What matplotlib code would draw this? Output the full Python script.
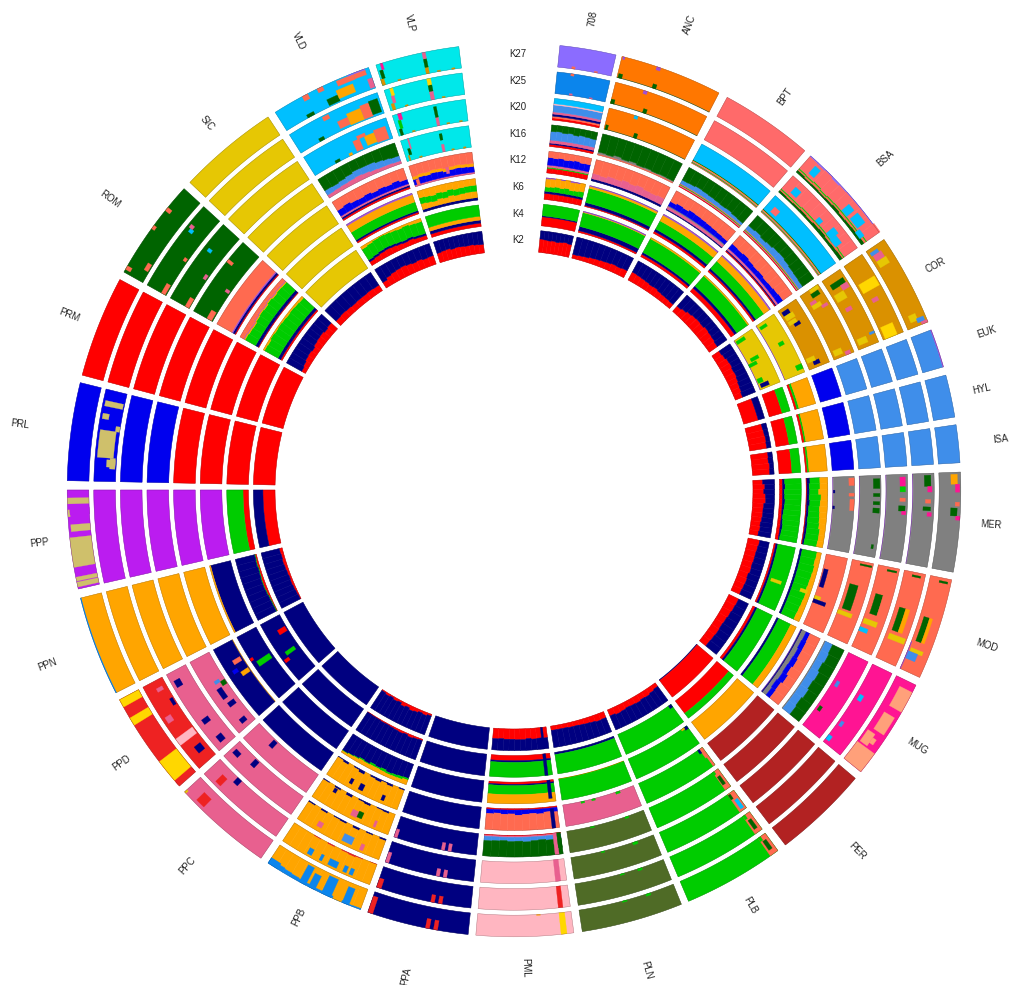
# circular admixture plot, one wedge per population, one ring per K
import numpy as np
import matplotlib
matplotlib.use("Agg")
import matplotlib.pyplot as plt

plt.rcParams["font.family"] = ["Liberation Sans", "DejaVu Sans"]

PAL = {
    "R": "#ff0000", "N": "#000080", "G": "#00cc00", "O": "#ffa500", "T": "#ff6a50",
    "D": "#006400", "B": "#0000ee", "C": "#3f8eea", "S": "#00bfff", "P": "#e8608f",
    "V": "#a04fd8", "L": "#8b6cff", "A": "#0b85ec", "F": "#ff7700", "M": "#ff6a6a",
    "Y": "#e6c704", "H": "#da9100", "W": "#ffd700", "E": "#808080", "U": "#ff1493",
    "Q": "#ffa07a", "I": "#b22222", "J": "#4f6b26", "K": "#ffb6c1", "X": "#ee2222",
    "Z": "#bb1cf0", "a": "#cfc06b", "c": "#00e8ea",
}

rings = ["K2", "K4", "K6", "K12", "K16", "K20", "K25", "K27"]
sector_names = ["708", "ANC", "BPT", "BSA", "COR", "EUK", "HYL", "ISA", "MER", "MOD", "MUG",
                "PER", "PLB", "PLN", "PML", "PPA", "PPB", "PPC", "PPD", "PPN", "PPP", "PRL",
                "PRM", "ROM", "SIC", "VLD", "VLP"]
sector_start = [5.9, 14.0, 28.5, 41.6, 55.9, 69.0, 75.1, 81.6, 87.7, 101.6, 115.9, 130.2, 143.8,
                158.0, 172.3, 185.9, 200.1, 214.5, 228.5, 243.0, 257.2, 271.2, 284.9, 299.2,
                313.5, 327.7, 342.0]
sector_end = [13.2, 27.3, 40.6, 54.8, 67.9, 74.0, 80.6, 86.5, 100.6, 114.8, 129.1, 142.6, 157.0,
              171.2, 184.9, 199.1, 213.4, 227.5, 242.0, 256.0, 270.0, 283.9, 298.1, 312.4,
              326.6, 341.0, 352.9]

# layers run from the inner edge of a ring outward, None = the rest of the ring
stripes_k16 = [("R", .04), ("P", .05), ("G", .03), ("T", .04)]
stripes_k20 = [("T", .04), ("G", .03), ("P", .05), ("O", .03), ("D", .03)]

cells_708 = [
    [("R", [.62, .6, .58, .6, .57, .6, .63, .6]), ("N", None)],
    [("R", .42), ("N", .05), ("G", None)],
    [("R", .28), ("N", .1), ("G", [.2, .22, .25, .22, .26, .2, .22, .25]), ("O", .38), ("V", None)],
    [("R", .22), ("G", .05), ("P", .1), ("B", [.35, .33, .36, .32, .34, .37, .32, .33]), ("T", None)],
    [("R", .1), ("N", .06), ("P", .14), ("C", [.4, .42, .38, .41, .36, .4, .38, .36]), ("D", None)],
    [("R", .1), ("T", .08), ("N", .1), ("P", .1), ("C", .32), ("K", .06), ("S", None)],
    [("A", None)],
    [("L", None)],
]
spots_708 = [(7, .26, .32, 0, .1, "T"), (7, .68, .74, 0, .06, "T"), (6, .28, .34, 0, .08, "P"),
             (6, .68, .74, 0, .05, "P"), (6, .26, .32, .9, 1, "T")]

cells_ANC = [
    [("R", [.18, .2, .22, .26, .28, .3, .32, .35, .33, .36]), ("N", None)],
    [("R", .08), ("N", .2), ("G", .66), ("O", .03), ("V", None)],
    [("R", .05), ("N", .14), ("G", .68), ("O", .1), ("V", None)],
    [("N", .1), ("P", [.25, .22, .3, .28, .35, .3, .36, .3, .28, .32]), ("T", None)],
    [("T", .06), ("E", [.08, .05, .12, .06, .1, .04, .06, .03, .05, .04]), ("D", None)],
    [("J", .03), ("F", None)],
    [("J", .03), ("F", None)],
    [("J", .03), ("F", None)],
]
spots_ANC = [(5, .01, .04, 0, .22, "D"), (5, .35, .39, 0, .22, "D"), (5, .29, .33, .85, 1, "S"),
             (6, .0, .04, 0, .2, "D"), (6, .36, .4, 0, .2, "D"), (6, .3, .34, .85, 1, "V"),
             (7, .01, .05, 0, .2, "D"), (7, .37, .41, 0, .2, "D"), (7, .35, .39, .85, 1, "V"),
             (7, .01, .03, .88, 1, "V")]

cells_BPT = [
    [("R", [.42, .4, .38, .36, .33, .35, .3, .28, .27, .25]), ("N", None)],
    [("R", .12), ("N", .1), ("G", .72), ("O", None)],
    [("R", .1), ("N", .12), ("G", .43), ("O", .3), ("V", None)],
    [("N", .05), ("P", .12), ("E", .05), ("B", [.22, .28, .25, .32, .3, .28, .26, .24, .22, .2]), ("T", None)],
    stripes_k16 + [("C", [.18, .2, .24, .22, .2, .18, .16, .18, .14, .12]), ("D", None)],
    stripes_k20 + [("S", None)],
    [("M", None)],
    [("M", None)],
]
spots_BPT = []

cells_BSA = [
    [("R", [.32, .38, .45, .5, .52, .5, .55, .52, .5, .46]), ("N", None)],
    [("R", .2), ("N", .13), ("G", .62), ("O", None)],
    [("R", .08), ("N", .1), ("G", .45), ("O", .32), ("V", None)],
    [("R", .05), ("N", .05), ("P", .1), ("B", [.28, .26, .3, .25, .22, .24, .2, .22, .25, .28]), ("T", None)],
    stripes_k16 + [("C", [.22, .26, .2, .24, .3, .32, .28, .24, .22, .2]), ("D", None)],
    stripes_k20 + [("S", None)],
    [("D", [.1, .08, .1, .12, .1, .14, .16, .12, .14, .16]),
     ("T", [.06, .08, .06, .08, .1, .08, .06, .08, .1, .06]), ("G", .05), ("M", None)],
    [("D", [.12, .08, .1, .08, .1, .14, .1, .12, .14, .16]),
     ("T", [.06, .08, .1, .06, .08, .06, .1, .08, .06, .1]), ("G", .05), ("M", .74), ("L", None)],
]
spots_BSA = [(5, .08, .16, .3, .6, "M"), (6, .1, .18, .35, .7, "S"), (6, .68, .76, .25, .7, "S"),
             (6, .76, .86, .2, .55, "S"), (6, .5, .56, .25, .5, "S"), (7, .1, .17, .35, .8, "S"),
             (7, .6, .68, .25, .7, "S"), (7, .72, .84, .3, .75, "S"), (7, .86, .94, .1, .35, "S")]

cells_COR = [
    [("R", [.4, .44, .5, .52, .48, .5, .46, .42, .4, .36]), ("N", None)],
    [("V", .03), ("Y", None)],
    [("V", .03), ("Y", None)],
    [("H", None)],
    [("H", None)],
    [("H", None)],
    [("H", None)],
    [("H", None)],
]
spots_COR = [(1, .03, .09, .05, .5, "G"), (1, .42, .48, .2, .6, "G"), (1, .5, .56, 0, .4, "G"),
             (1, .9, .97, .1, .5, "N"), (1, .8, .88, .05, .3, "G"),
             (2, .05, .1, .1, .45, "G"), (2, .42, .48, .45, .7, "G"), (2, .86, .94, .7, 1, "G"),
             (3, .05, .12, .1, .45, "N"), (3, .28, .33, .3, .6, "N"), (3, .22, .28, .1, .5, "Y"),
             (3, .12, .2, .1, .55, "Y"), (3, .9, .96, .3, .6, "N"), (3, .83, .9, .05, .45, "Y"),
             (4, .06, .12, .45, .85, "D"), (4, .0, .05, .5, .95, "Y"), (4, .15, .2, .2, .5, "P"),
             (4, .2, .26, .2, .65, "Y"), (4, .26, .3, .6, .9, "P"), (4, .88, .96, .1, .5, "Y"),
             (4, .95, 1, .6, .85, "P"),
             (5, .1, .17, .2, .9, "D"), (5, .17, .24, .6, .95, "P"), (5, .24, .34, .1, .6, "Y"),
             (5, .45, .5, .25, .55, "P"), (5, .87, .95, .1, .55, "Y"), (5, .85, .88, .75, 1, "C"),
             (6, .28, .4, .1, .95, "W"), (6, .85, 1, .1, .7, "W"), (6, .5, .55, .3, .6, "P"),
             (7, .08, .16, .15, .6, "P"), (7, .04, .08, .1, .5, "C"), (7, .16, .24, .15, .65, "Y"),
             (7, .86, .94, .25, .6, "Y"), (7, .92, .97, .55, .9, "C"), (7, .97, 1, .7, 1, "P")]

cells_EUK = [
    [("R", .7), ("N", None)],
    [("R", .62), ("G", None)],
    [("R", .1), ("G", .1), ("O", None)],
    [("B", None)],
    [("C", None)],
    [("C", None)],
    [("C", None)],
    [("C", .97), ("V", None)],
]
cells_HYL = [
    [("R", [.78, .8, .82, .8]), ("N", None)],
    [("R", .62), ("G", None)],
    [("R", .1), ("G", .07), ("O", None)],
    [("B", None)],
    [("C", None)],
    [("C", None)],
    [("C", None)],
    [("C", None)],
]
cells_ISA = [
    [("R", [.8, .78, .82, .8]), ("N", None)],
    [("R", .6), ("G", None)],
    [("R", .08), ("G", .08), ("O", None)],
    [("B", None)],
    [("C", None)],
    [("C", None)],
    [("C", None)],
    [("C", None)],
]

cells_MER = [
    [("R", [.45, .55, .5, .58, .6, .52, .5, .5, .48, .44, .46, .42]), ("N", None)],
    [("R", .14), ("N", [.1, .12, .08, .1, .12, .1, .08, .06, .08, .1, .08, .06]), ("G", None)],
    [("R", .04), ("N", [.14, .1, .12, .1, .14, .1, .1, .08, .1, .1, .1, .08]),
     ("G", [.46, .5, .42, .55, .48, .5, .52, .55, .55, .6, .6, .6]), ("O", None)],
    [("V", .03), ("E", None)],
    [("V", .03), ("E", None)],
    [("V", .03), ("E", None)],
    [("V", .03), ("E", None)],
    [("E", None)],
]
spots_MER = [(3, .02, .12, .75, 1, "T"), (3, .22, .26, .75, 1, "T"), (3, .3, .45, .8, 1, "T"),
             (3, .18, .22, .02, .1, "N"), (3, .4, .44, .02, .1, "N"),
             (4, .04, .16, .65, .95, "D"), (4, .22, .26, .65, .95, "D"), (4, .32, .36, .65, .95, "D"),
             (4, .4, .46, .65, .95, "D"), (4, .85, .9, .75, .85, "D"),
             (5, .03, .14, .65, .9, "U"), (5, .14, .2, .65, .9, "G"), (5, .27, .31, .65, .9, "T"),
             (5, .36, .42, .6, .9, "D"), (5, .42, .46, .75, .95, "U"),
             (6, .02, .14, .55, .85, "D"), (6, .14, .2, .7, .9, "U"), (6, .28, .32, .6, .85, "T"),
             (6, .36, .4, .5, .85, "D"), (6, .42, .46, .7, .9, "U"),
             (7, .02, .12, .55, .85, "O"), (7, .12, .2, .75, .95, "U"), (7, .3, .34, .75, .95, "T"),
             (7, .36, .44, .55, .85, "D"), (7, .44, .48, .8, 1, "U")]

cells_MOD = [
    [("R", [.55, .52, .5, .5, .48, .5, .45, .48, .46, .44]), ("N", None)],
    [("R", .08), ("N", .1), ("G", None)],
    [("N", .1), ("G", [.7, .68, .72, .7, .68, .66, .7, .68, .66, .64]), ("O", None)],
    [("T", None)],
    [("T", None)],
    [("T", None)],
    [("T", None)],
    [("T", None)],
]
spots_MOD = [(1, .55, .6, .3, .8, "Y"), (2, .55, .6, .5, .85, "Y"),
             (3, .58, .63, 0, .3, "Y"), (3, .2, .45, .05, .25, "N"), (3, .63, .68, 0, .6, "N"),
             (4, .65, .7, 0, .7, "Y"), (4, .3, .62, .15, .55, "D"), (4, .03, .05, .4, .95, "D"),
             (5, .64, .7, .05, .7, "Y"), (5, .33, .57, .2, .55, "D"), (5, .33, .57, .55, .8, "T"),
             (5, .03, .05, .45, .9, "D"), (5, .75, .8, .0, .4, "S"),
             (6, .7, .76, .15, .95, "Y"), (6, .4, .66, .2, .5, "D"), (6, .4, .66, .5, .7, "O"),
             (6, .03, .05, .4, .8, "D"),
             (7, .76, .8, .1, .7, "Y"), (7, .42, .68, .18, .45, "D"), (7, .42, .68, .45, .6, "O"),
             (7, .03, .05, .45, .85, "D"), (7, .8, .88, 0, .5, "C"), (7, .7, 1, 0, .03, "V")]

cells_MUG = [
    [("R", [.5, .48, .45, .42, .4, .42, .4, .38]), ("N", None)],
    [("R", .12), ("N", .1), ("G", None)],
    [("N", .1), ("G", .62), ("O", None)],
    [("V", .03), ("N", .05), ("E", [.2, .18, .22, .2, .18, .2, .16, .2]),
     ("B", [.2, .24, .2, .26, .22, .28, .24, .22]), ("T", None)],
    [("E", .05), ("C", [.36, .4, .34, .42, .38, .44, .38, .42]), ("D", None)],
    [("U", None)],
    [("U", None)],
    [("U", None)],
]
spots_MUG = [(5, .35, .42, .15, .3, "C"), (5, .7, .76, .1, .25, "D"), (6, .35, .42, .15, .35, "S"),
             (6, .7, .76, .1, .25, "C"), (6, .9, .96, 0, .2, "S"),
             (7, .08, .3, .35, 1, "Q"), (7, .38, .58, .3, .85, "Q"), (7, .62, .76, .1, .5, "Q"),
             (7, .78, 1, 0, 1, "Q"), (7, .66, .72, .5, .7, "Q")]

cells_PER = [
    [("N", .04), ("R", None)],
    [("R", .72), ("G", None)],
    [("O", None)],
    [("I", None)],
    [("I", None)],
    [("I", None)],
    [("I", None)],
    [("I", None)],
]

cells_PLB = [
    [("R", [.2, .25, .3, .28, .32, .3, .28, .32, .35, .3]), ("N", None)],
    [("G", None)],
    [("G", None)],
    [("G", None)],
    [("G", None)],
    [("G", None)],
    [("G", None)],
    [("G", None)],
]
spots_PLB = [(1, .0, .05, 0, .15, "N"), (2, .0, .05, 0, .15, "N"), (2, .05, .1, 0, .08, "O"),
             (3, .0, .05, 0, .5, "T"), (3, .0, .03, .5, 1, "T"), (3, .05, .08, 0, .2, "N"),
             (4, .0, .08, 0, 1, "T"), (4, .03, .07, .3, .75, "D"), (4, .06, .1, 0, .15, "G"),
             (5, .0, .09, 0, 1, "T"), (5, .02, .06, .4, .9, "S"), (5, .06, .09, .05, .3, "D"),
             (6, .0, .09, 0, 1, "T"), (6, .03, .07, .3, .8, "D"), (6, .06, .09, 0, .2, "G"),
             (7, .0, .09, 0, 1, "T"), (7, .03, .07, .25, .75, "D"), (7, .06, .09, 0, .2, "G")]

cells_PLN = [
    [("R", [.3, .32, .28, .26, .24, .22, .22, .2, .2, .2]), ("N", None)],
    [("N", .1), ("G", None)],
    [("O", .02), ("G", None)],
    [("P", None)],
    [("J", None)],
    [("J", None)],
    [("J", None)],
    [("J", None)],
]
spots_PLN = [(3, .2, .26, 0, .1, "G"), (3, .55, .6, 0, .08, "G"), (3, .7, .75, 0, .08, "G"),
             (4, .2, .25, 0, .08, "G"), (4, .65, .7, 0, .06, "G"),
             (5, .2, .26, 0, .12, "G"), (5, .6, .64, 0, .06, "G"),
             (6, .25, .3, 0, .1, "G"), (6, .45, .5, 0, .06, "G"),
             (7, .25, .3, 0, .1, "G"), (7, .5, .55, 0, .06, "G")]

cells_PML = [
    [("R", [.5, .48, .5, .46, .5, .5, .48, .48, .46, .48]), ("N", None)],
    [("R", .24), ("N", .08), ("G", None)],
    [("R", .1), ("N", .06), ("G", .42), ("O", None)],
    [("R", .06), ("B", [.2, .16, .22, .18, .2, .24, .18, .2, .16, .2]), ("T", None)],
    [("R", .03), ("P", .06), ("C", [.18, .2, .16, .18, .22, .18, .2, .16, .18, .2]), ("D", None)],
    [("K", None)],
    [("K", None)],
    [("K", None)],
]
spots_PML = [(0, .07, .11, 0, 1, "N"), (1, .07, .12, 0, 1, "N"), (2, .05, .1, 0, .85, "N"),
             (3, .05, .1, .1, 1, "N"), (4, .05, .1, 0, 1, "P"), (4, .0, .05, 0, .7, "D"),
             (5, .07, .13, 0, 1, "P"), (6, .08, .13, 0, 1, "X"), (7, .07, .13, 0, 1, "W"),
             (7, .33, .37, 0, .04, "O")]

cells_PPA = [[("N", None)] for _ in rings]
spots_PPA = [(4, .3, .34, .65, 1, "P"), (4, .38, .42, .65, 1, "P"), (4, .96, 1, .6, 1, "P"),
             (5, .3, .34, .65, 1, "P"), (5, .38, .42, .65, 1, "P"), (5, .96, 1, .5, 1, "P"),
             (6, .3, .34, .65, 1, "X"), (6, .38, .42, .65, 1, "X"), (6, .95, 1, .55, 1, "X"),
             (7, .3, .34, .55, 1, "X"), (7, .38, .42, .55, 1, "X"), (7, .95, 1, .2, 1, "X")]

cells_PPB = [
    [("R", [.08, .14, .1, .16, .2, .12, .18, .08, .12, .06, .1, .05]), ("N", None)],
    [("R", [.06, .08, .12, .06, .1, .08, .06, .04, .05, .03, .03, .02]), ("N", None)],
    [("N", [.7, .72, .75, .78, .72, .76, .72, .8, .76, .82, .86, .9]), ("G", [.08, .12, .1, .08, .12, .06, .1, .04, .06, .04, .02, .02]), ("O", None)],
    [("N", [.06, 0, .1, .04, .12, .08, 0, .14, .06, 0, .1, .04]), ("O", None)],
    [("N", [0, .08, .05, 0, .1, .06, 0, .12, 0, .08, 0, .05]), ("O", None)],
    [("N", [.08, 0, .06, 0, .1, 0, .08, .05, 0, .08, 0, .06]), ("O", None)],
    [("X", [.02, 0, .04, .08, .05, 0, .06, 0, .04, 0, 0, 0]), ("O", None)],
    [("O", [.95, .96, .92, .9, .88, .9, .88, .88, .85, .82, .78, .72]), ("A", None)],
]
spots_PPB = [(3, .2, .24, .6, .85, "N"), (3, .5, .56, .55, .85, "N"), (3, .66, .7, .55, .8, "N"),
             (4, .17, .2, .6, .9, "P"), (4, .42, .5, .55, .85, "P"), (4, .36, .42, .5, .8, "D"),
             (4, .78, .82, .1, .3, "N"),
             (5, .2, .24, .6, .9, "P"), (5, .34, .46, .5, .85, "C"), (5, .72, .78, .55, .8, "P"),
             (6, .2, .24, .6, .9, "A"), (6, .27, .31, .6, .9, "A"), (6, .38, .48, .6, .9, "A"),
             (6, .55, .58, .6, .9, "A"), (6, .67, .72, .6, .9, "A"),
             (7, .12, .19, .2, 1, "A"), (7, .2, .29, .15, 1, "O"), (7, .31, .41, .1, 1, "A"),
             (7, .48, .55, .3, 1, "A"), (7, .58, .65, .1, 1, "A"), (7, .89, 1, .7, 1, "A")]

cells_PPC = [
    [("N", None)],
    [("N", None)],
    [("N", None)],
    [("N", None)],
    [("P", None)],
    [("P", None)],
    [("P", None)],
    [("P", None)],
]
spots_PPC = [(4, .66, .72, .05, .4, "N"), (5, .66, .72, .05, .4, "N"), (6, .66, .72, 0, .3, "N"),
             (7, .76, .86, .35, .85, "X"), (7, .98, 1, .85, 1, "Y"), (6, .79, .86, .4, .85, "X"),
             (5, .88, .96, .35, .6, "N")]

cells_PPD = [
    [("N", None)],
    [("N", None)],
    [("N", None)],
    [("O", .03), ("N", None)],
    [("P", None)],
    [("P", None)],
    [("X", None)],
    [("X", None)],
]
spots_PPD = [(1, .32, .37, .7, .95, "R"), (1, .72, .8, .05, .45, "R"), (2, .5, .58, .1, .8, "G"),
             (2, .62, .66, .85, 1, "R"), (3, .52, .58, .05, .45, "O"), (3, .6, .65, .5, .75, "B"),
             (3, .7, .76, .1, .5, "T"), (1, .4, .46, .2, .7, "G"),
             (4, .06, .12, .3, .6, "N"), (4, .3, .36, .2, .55, "N"), (4, .42, .56, .35, .6, "N"),
             (4, .56, .62, .02, .25, "D"), (4, .62, .66, .25, .5, "C"), (5, .06, .14, .4, .7, "N"),
             (5, .32, .38, .4, .75, "N"), (5, .82, .9, .55, .85, "N"),
             (6, .12, .2, .2, .55, "N"), (6, .3, .38, .05, 1, "K"), (6, .55, .62, .55, .85, "P"),
             (6, .68, .76, .05, .2, "N"), (6, .88, .92, .2, .5, "P"),
             (7, .02, .05, 0, 1, "X"), (7, .07, .3, 0, 1, "W"), (7, .72, .8, 0, 1, "W"),
             (7, .92, 1, 0, 1, "W")]

cells_PPN = [
    [("R", [.04, .06, .08, .1, .08, .1, .12, .14, .12, .14]), ("N", None)],
    [("R", [.03, .04, .05, .08, .1, .1, .08, .06, .08, .06]), ("G", .03), ("N", None)],
    [("N", .95), ("O", None)],
    [("O", None)],
    [("O", None)],
    [("O", None)],
    [("O", None)],
    [("O", .97), ("A", None)],
]
spots_PPN = []

cells_PPP = [
    [("R", .56), ("N", None)],
    [("R", .25), ("G", None)],
    [("Z", None)],
    [("Z", None)],
    [("Z", None)],
    [("Z", None)],
    [("Z", None)],
    [("Z", None)],
]
spots_PPP = [(7, .02, .07, 0, 1, "a"), (7, .08, .12, 0, 1, "a"), (7, .22, .52, 0, 1, "a"),
             (7, .58, .65, 0, .9, "a"), (7, .73, .8, .9, 1, "a"), (7, .86, .92, 0, 1, "a"),
             (7, .75, .82, 0, .9, "Z")]

cells_PRL = [
    [("R", None)],
    [("R", None)],
    [("R", None)],
    [("R", None)],
    [("B", None)],
    [("B", None)],
    [("B", None)],
    [("B", None)],
]
spots_PRL = [(6, .16, .24, .05, .45, "a"), (6, .26, .56, .15, .9, "a"), (6, .14, .26, .05, .3, "a"),
             (6, .56, .62, .0, .2, "a"), (6, .82, .88, .05, .9, "a"), (6, .68, .74, .6, .9, "a")]

cells_PRM = [[("R", None)] for _ in rings]

cells_ROM = [
    [("R", [.2, .25, .3, .32, .28, .35, .38, .4, .35, .4]), ("N", None)],
    [("R", .08), ("N", .14), ("G", [.72, .7, .75, .72, .74, .72, .7, .72, .7, .68]), ("O", None)],
    [("R", .04), ("N", .14), ("G", [.55, .52, .5, .55, .58, .55, .6, .55, .58, .56]), ("O", .06), ("V", .03), ("T", None)],
    [("R", .05), ("N", .1), ("V", .06), ("T", None)],
    [("D", None)],
    [("D", None)],
    [("D", None)],
    [("D", None)],
]
spots_ROM = [(4, .0, .12, .05, .3, "T"), (4, .4, .44, .05, .25, "P"), (4, .7, .74, .7, 1, "T"),
             (5, .0, .12, .02, .22, "T"), (5, .38, .44, .05, .2, "P"), (5, .66, .7, .6, .8, "S"),
             (6, .0, .12, .05, .25, "T"), (6, .42, .46, .05, .2, "T"), (6, .7, .74, .6, .8, "S"),
             (6, .74, .78, .7, .9, "P"), (7, .03, .07, .75, 1, "T"), (7, .12, .2, .05, .25, "T"),
             (7, .5, .54, .85, 1, "T"), (7, .72, .76, .75, 1, "T")]

cells_SIC = [
    [("R", [.3, .32, .3, .28, .3, .3, .32, .3]), ("N", None)],
    [("Y", None)],
    [("Y", None)],
    [("Y", None)],
    [("Y", None)],
    [("Y", None)],
    [("Y", None)],
    [("Y", None)],
]

cells_VLD = [
    [("R", [.3, .4, .45, .48, .5, .46, .42, .45, .4, .42]), ("N", None)],
    [("R", [.2, .24, .28, .3, .28, .25, .22, .25, .2, .18]), ("N", .1), ("G", .58), ("O", None)],
    [("R", .08), ("N", .08), ("G", .42), ("O", .36), ("V", None)],
    [("R", .08), ("N", .08), ("P", .08), ("B", [.3, .35, .28, .26, .3, .24, .28, .25, .3, .22]), ("T", None)],
    [("P", [.16, .18, .2, .22, .25, .22, .18, .16, .16, .14]),
     ("C", [.24, .2, .22, .25, .28, .3, .34, .3, .26, .24]), ("D", None)],
    [("S", None)],
    [("S", None)],
    [("S", None)],
]
spots_VLD = [(4, .88, .94, .4, .95, "D"),
             (5, .28, .34, .0, .12, "D"), (5, .46, .5, .0, .12, "O"), (5, .56, .64, .05, .55, "T"),
             (5, .7, .82, .1, .55, "O"), (5, .82, .96, .05, .65, "T"), (5, .62, .72, .55, .7, "T"),
             (6, .24, .3, .0, .15, "D"), (6, .38, .45, .75, .95, "T"), (6, .5, .62, .1, .45, "T"),
             (6, .62, .78, .05, .6, "O"), (6, .78, .88, .05, .7, "T"), (6, .88, .98, .1, .75, "D"),
             (7, .25, .33, .0, .15, "D"), (7, .3, .36, .75, 1, "T"), (7, .46, .52, .8, 1, "T"),
             (7, .5, .62, .05, .35, "D"), (7, .62, .8, .15, .55, "O"), (7, .66, .84, .7, .95, "T"),
             (7, .84, .96, .72, 1, "T"), (7, .78, .96, .95, 1, "L"), (7, .95, 1, .05, .5, "P")]

cells_VLP = [
    [("R", [.45, .48, .5, .45, .48, .46, .44, .45, .42, .4]), ("N", None)],
    [("R", .16), ("N", .14), ("O", .18), ("G", None)],
    [("N", .12), ("O", [.28, .25, .22, .28, .25, .3, .26, .28, .3, .3]), ("G", .28), ("O", None)],
    [("P", .08), ("B", [.26, .3, .28, .32, .3, .24, .28, .3, .28, .26]), ("O", .14), ("T", None)],
    [("c", None)],
    [("c", None)],
    [("c", None)],
    [("c", None)],
]
spots_VLP = [(3, .04, .09, .05, .3, "T"), (3, .55, .6, .2, .5, "P"),
             (4, .04, .06, 0, .25, "H"), (4, .06, .1, .25, .55, "D"), (4, .1, .12, .5, 1, "P"),
             (4, .56, .6, 0, .35, "P"), (4, .56, .6, .55, .85, "D"), (4, .2, .24, 0, .06, "H"),
             (4, .7, .74, 0, .06, "H"), (4, .88, .92, 0, .06, "H"),
             (5, .03, .07, 0, .3, "D"), (5, .05, .09, .3, .7, "G"), (5, .07, .12, .7, 1, "U"),
             (5, .56, .6, 0, .4, "P"), (5, .56, .6, .4, .9, "D"), (5, .2, .24, 0, .06, "H"),
             (5, .7, .74, 0, .06, "H"), (5, .88, .92, 0, .06, "H"),
             (6, .03, .07, 0, .3, "H"), (6, .06, .1, .3, .65, "P"), (6, .07, .11, .65, 1, "W"),
             (6, .55, .6, 0, .4, "P"), (6, .55, .6, .4, .7, "D"), (6, .55, .6, .7, 1, "W"),
             (6, .2, .24, 0, .06, "H"), (6, .7, .74, 0, .06, "H"),
             (7, .0, .04, 0, .3, "H"), (7, .02, .06, .3, .7, "D"), (7, .05, .08, .7, 1, "U"),
             (7, .56, .6, 0, .3, "H"), (7, .56, .6, .3, .7, "D"), (7, .56, .6, .7, 1, "P"),
             (7, .2, .24, 0, .06, "H"), (7, .7, .74, 0, .06, "H"), (7, .88, .92, 0, .06, "H")]

all_cells = [cells_708, cells_ANC, cells_BPT, cells_BSA, cells_COR, cells_EUK, cells_HYL, cells_ISA,
             cells_MER, cells_MOD, cells_MUG, cells_PER, cells_PLB, cells_PLN, cells_PML, cells_PPA,
             cells_PPB, cells_PPC, cells_PPD, cells_PPN, cells_PPP, cells_PRL, cells_PRM, cells_ROM,
             cells_SIC, cells_VLD, cells_VLP]
all_spots = [spots_708, spots_ANC, spots_BPT, spots_BSA, spots_COR, [], [], [],
             spots_MER, spots_MOD, spots_MUG, [], spots_PLB, spots_PLN, spots_PML, spots_PPA,
             spots_PPB, spots_PPC, spots_PPD, spots_PPN, spots_PPP, spots_PRL, [], spots_ROM,
             [], spots_VLD, spots_VLP]

R_IN = 239.0
R_H = 21.6
R_STEP = 26.6

W, H = 1015, 985
CX, CY = 514, 490
RMAX = 520

fig = plt.figure(figsize=(W / 100, H / 100), dpi=100)
ax = fig.add_axes([(CX - RMAX) / W, (H - CY - RMAX) / H, 2 * RMAX / W, 2 * RMAX / H], projection="polar")
ax.set_theta_zero_location("N")
ax.set_theta_direction(-1)
ax.set_xlim(0, 2 * np.pi)
ax.set_ylim(0, RMAX)
ax.autoscale(False)
ax.axis("off")


def wedge(t0, t1, r0, r1, face, edge, lw):
    # arc samples about every half degree so the sides stay straight radii
    th = np.linspace(t0, t1, int(np.degrees(t1 - t0) * 2) + 2)
    ax.fill(np.r_[th, th[::-1]], np.r_[np.full(th.size, r0), np.full(th.size, r1)],
            facecolor=face, edgecolor=edge, linewidth=lw)


for s, cells in enumerate(all_cells):
    t0 = np.radians(sector_start[s])
    t1 = np.radians(sector_end[s])
    for k, layers in enumerate(cells):
        r0 = R_IN + k * R_STEP
        n = max(len(v) if isinstance(v, list) else 1 for _, v in layers)
        w = (t1 - t0) / n
        for col in range(n):
            base = 0.0
            for color, v in layers:
                share = 1 - base if v is None else (v[col] if isinstance(v, list) else v)
                if share > 0:
                    wedge(t0 + col * w, t0 + (col + 1) * w, r0 + base * R_H, r0 + (base + share) * R_H,
                          PAL[color], PAL[color], 0.35)
                base += share
    for k, f0, f1, a, b, color in all_spots[s]:
        r0 = R_IN + k * R_STEP
        wedge(t0 + f0 * (t1 - t0), t0 + f1 * (t1 - t0), r0 + a * R_H, r0 + b * R_H, PAL[color], PAL[color], 0.2)
    # thin grey outline round every cell
    for k in range(len(cells)):
        r0 = R_IN + k * R_STEP
        wedge(t0, t1, r0, r0 + R_H, "none", "#00000055", 0.3)

    # population label, radial and staggered on two distances
    mid = (sector_start[s] + sector_end[s]) / 2
    rot = 90 - mid if mid <= 180 else 270 - mid
    label_r = 478 if s % 2 == 0 else 498
    if sector_names[s] == "ISA":
        label_r = 489
    ax.text(np.radians(mid), label_r, sector_names[s], fontsize=6.9, color="#222222",
            rotation=rot, rotation_mode="anchor", ha="center", va="center", clip_on=False)

for k, name in enumerate(rings):
    r = R_IN + k * R_STEP + R_H / 2
    ax.text(np.arcsin(4 / r), r, name, fontsize=6.9, color="#222222", ha="center", va="center")

fig.savefig("out.png", dpi=100, facecolor="white")
